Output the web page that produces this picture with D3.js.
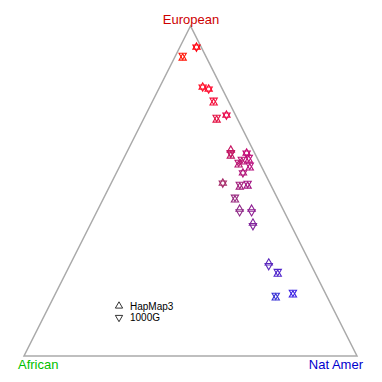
<!DOCTYPE html>
<html>
<head>
<meta charset="utf-8">
<script src="https://cdn.jsdelivr.net/npm/d3@7"></script>
<style>
  body { margin: 0; background: #fff; }
  svg { display: block; font-family: "Liberation Sans", Arial, sans-serif; }
</style>
</head>
<body>
<div id="chart"></div>
<script>
// ancestry fractions per sample (African = 1 - European - Nat Amer)
var hapmapEur = [0.936, 0.903, 0.815, 0.809, 0.767, 0.730, 0.715, 0.624, 0.606, 0.615, 0.588, 0.594, 0.579,
                 0.570, 0.555, 0.524, 0.512, 0.515, 0.473, 0.445, 0.445, 0.403, 0.282, 0.248, 0.176, 0.185];
var hapmapNat = [0.050, 0.025, 0.129, 0.150, 0.186, 0.243, 0.221, 0.309, 0.318, 0.361, 0.360, 0.378, 0.355,
                 0.393, 0.380, 0.335, 0.392, 0.414, 0.397, 0.425, 0.461, 0.486, 0.594, 0.638, 0.668, 0.715];
var kgEur = [0.936, 0.911, 0.815, 0.809, 0.775, 0.730, 0.723, 0.616, 0.614, 0.615, 0.596, 0.602, 0.587,
             0.578, 0.555, 0.524, 0.520, 0.523, 0.481, 0.437, 0.437, 0.395, 0.274, 0.256, 0.184, 0.193];
var kgNat = [0.050, 0.021, 0.129, 0.150, 0.182, 0.243, 0.217, 0.313, 0.314, 0.361, 0.356, 0.374, 0.351,
             0.389, 0.380, 0.335, 0.388, 0.410, 0.393, 0.429, 0.465, 0.490, 0.598, 0.634, 0.664, 0.711];

var corners = ["European", "African", "Nat Amer"];
var cornerColors = ["#cd0000", "#00c000", "#0000cd"];
var legendLabels = ["HapMap3", "1000G"];

var width = 382, height = 382;

var svg = d3.select("#chart").append("svg")
    .attr("width", width)
    .attr("height", height);

// ternary projection: x from (Nat Amer + European/2), y from European
var x = d3.scaleLinear().domain([0, 1]).range([24, 357]);
var y = d3.scaleLinear().domain([0, 1]).range([356, 26]);
function px(e, n) { return x(n + e / 2); }
function py(e) { return y(e); }

// frame
var frame = [[1, 0], [0, 0], [0, 1]];
svg.append("path")
    .attr("d", d3.line()(frame.map(function(d) { return [px(d[0], d[1]), py(d[0])]; })) + "Z")
    .attr("fill", "none")
    .attr("stroke", "#aaaaaa")
    .attr("stroke-width", 1.5);

// corner labels
var labelPos = [[191, 24, "middle"], [18, 369, "start"], [363, 369, "end"]];
svg.selectAll("text.corner")
    .data(corners)
    .enter().append("text")
    .attr("class", "corner")
    .attr("x", function(d, i) { return labelPos[i][0]; })
    .attr("y", function(d, i) { return labelPos[i][1]; })
    .attr("text-anchor", function(d, i) { return labelPos[i][2]; })
    .attr("font-size", "13px")
    .attr("fill", function(d, i) { return cornerColors[i]; })
    .text(function(d) { return d; });

var r = 4.2;
function tri(cx, cy, up) {
    var s = up ? 1 : -1;
    return "M" + cx + "," + (cy - s * r) +
        "L" + (cx + 0.866 * r) + "," + (cy + s * r / 2) +
        "L" + (cx - 0.866 * r) + "," + (cy + s * r / 2) + "Z";
}
// colour = mix of red (European), green (African), blue (Nat Amer)
var c = d3.scaleLinear().domain([0, 0.8]).range([0, 255]).clamp(true);
function mix(e, n) {
    var a = Math.max(0, 1 - e - n);
    return d3.rgb(c(e), c(a), c(n)).toString();
}

var idx = d3.range(hapmapEur.length);

svg.append("g").selectAll("path")
    .data(idx)
    .enter().append("path")
    .attr("d", function(i) { return tri(px(hapmapEur[i], hapmapNat[i]), py(hapmapEur[i]), true); })
    .attr("fill", "none")
    .attr("stroke", function(i) { return mix(hapmapEur[i], hapmapNat[i]); })
    .attr("stroke-width", 1.1);

svg.append("g").selectAll("path")
    .data(idx)
    .enter().append("path")
    .attr("d", function(i) { return tri(px(kgEur[i], kgNat[i]), py(kgEur[i]), false); })
    .attr("fill", "none")
    .attr("stroke", function(i) { return mix(hapmapEur[i], hapmapNat[i]); })
    .attr("stroke-width", 1.1);

// legend
var legend = svg.append("g").attr("transform", "translate(119,306)");
legend.selectAll("path")
    .data(legendLabels)
    .enter().append("path")
    .attr("d", function(d, i) { return tri(0, i * 11.5, i === 0); })
    .attr("fill", "none")
    .attr("stroke", "#000")
    .attr("stroke-width", 0.8);
legend.selectAll("text")
    .data(legendLabels)
    .enter().append("text")
    .attr("x", 11)
    .attr("y", function(d, i) { return i * 11.5 + 3.5; })
    .attr("font-size", "10px")
    .attr("fill", "#000")
    .text(function(d) { return d; });
</script>
</body>
</html>
